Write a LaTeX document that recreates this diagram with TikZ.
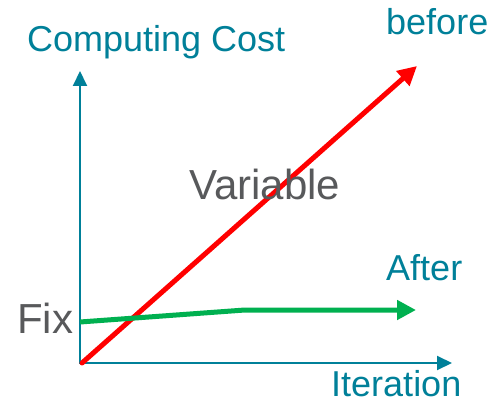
\documentclass[tikz,border=0pt]{standalone}
\usepackage{fontspec}
\setmainfont{Liberation Sans}
\usetikzlibrary{arrows.meta}
\definecolor{axisteal}{RGB}{0,128,153}
\definecolor{fixgreen}{RGB}{0,176,80}
\definecolor{labelgray}{RGB}{88,89,91}
\begin{document}
\begin{tikzpicture}[x=1pt,y=1pt,
  axisline/.style={draw=axisteal,line width=2pt,-{Triangle[length=15pt,width=14pt]}},
  costline/.style={line width=5pt,-{Triangle[length=19pt,width=19pt]}},
  tlabel/.style={anchor=base west,inner sep=0pt,text=axisteal,font=\fontsize{36}{40}\selectfont},
  glabel/.style={anchor=base west,inner sep=0pt,text=labelgray,font=\fontsize{42}{46}\selectfont}]
\useasboundingbox (0,0) rectangle (500,399);
% axes
\coordinate (O) at (80,36);
\coordinate (ytip) at (80,328);
\coordinate (xtip) at (452,36);
\draw[axisline] (O) -- (ytip);
\draw[axisline] ([xshift=-1pt]O) -- (xtip);
% cost curves
\coordinate (r0) at (82,36);
\coordinate (r1) at (417,333);
\draw[costline,red,line cap=round] (r0) -- (r1);
\coordinate (g0) at (80,77);
\coordinate (g1) at (245,89);
\coordinate (g2) at (416,89);
\draw[costline,fixgreen] (g0) -- (g1) -- (g2);
% labels
\node[tlabel] (ycap) at (27,347) {Computing Cost};
\node[tlabel] (xcap) at (331,3) {Iteration};
\node[tlabel] (bef) at (386,364) {before};
\node[tlabel] (aft) at (386,118) {After};
\node[glabel] (fix) at (17,66) {Fix};
\node[glabel] (var) at (189,199) {Variable};
\end{tikzpicture}
\end{document}
